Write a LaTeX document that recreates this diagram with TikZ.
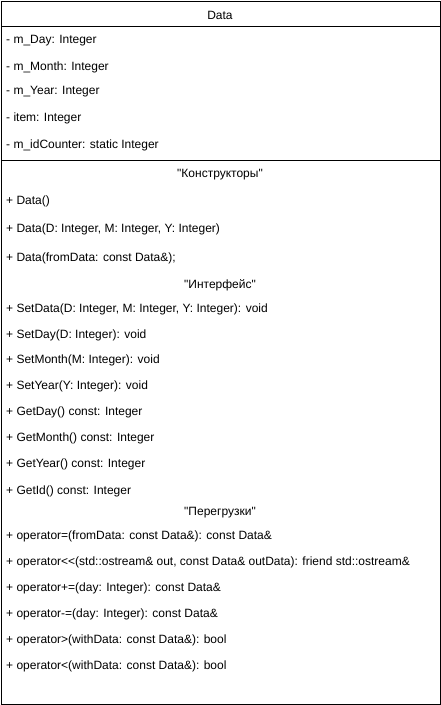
\documentclass[tikz,border=0pt]{standalone}
\usepackage{fontspec}
\setmainfont{Liberation Sans}

\begin{document}
\begin{tikzpicture}[
    x=1pt, y=-1pt,
    every node/.style={font=\fontsize{12}{14}\selectfont, inner sep=0pt},
    member/.style={anchor=west, yshift=-1pt},
    section/.style={anchor=center, yshift=-1pt},
    frame/.style={draw=black, line width=1pt}
]
\useasboundingbox (0,0) rectangle (441,705);

% class box
\draw[frame] (1,1) rectangle (440,704);
\draw[frame] (1,26) -- (440,26);
\draw[frame] (1,160) -- (440,160);

\node[section] (classname) at (220,14) {Data};

% attributes
\node[member] (mday) at (6,40) {- m\_Day: Integer};
\node[member] (mmonth) at (6,66) {- m\_Month: Integer};
\node[member] (myear) at (6,91) {- m\_Year: Integer};
\node[member] (item) at (6,117) {- item: Integer};
\node[member] (idcounter) at (6,144) {- m\_idCounter: static Integer};

% constructors
\node[section] (ctors) at (220,174) {\textquotedbl Конструкторы\textquotedbl};
\node[member] (ctordefault) at (6,200) {+ Data()};
\node[member] (ctordmy) at (6,228) {+ Data(D: Integer, M: Integer, Y: Integer)};
\node[member] (ctorcopy) at (6,257) {+ Data(fromData: const Data\&);};

% interface
\node[section] (iface) at (220,284) {\textquotedbl Интерфейс\textquotedbl};
\node[member] (setdata) at (6,308) {+ SetData(D: Integer, M: Integer, Y: Integer): void};
\node[member] (setday) at (6,334) {+ SetDay(D: Integer): void};
\node[member] (setmonth) at (6,359) {+ SetMonth(M: Integer): void};
\node[member] (setyear) at (6,385) {+ SetYear(Y: Integer): void};
\node[member] (getday) at (6,411) {+ GetDay() const: Integer};
\node[member] (getmonth) at (6,437) {+ GetMonth() const: Integer};
\node[member] (getyear) at (6,463) {+ GetYear() const: Integer};
\node[member] (getid) at (6,490) {+ GetId() const: Integer};

% overloads
\node[section] (overloads) at (220,512) {\textquotedbl Перегрузки\textquotedbl};
\node[member] (opassign) at (6,535) {+ operator=(fromData: const Data\&): const Data\&};
\node[member] (opout) at (6,561) {+ operator<{}<(std::ostream\& out, const Data\& outData): friend std::ostream\&};
\node[member] (opplus) at (6,587) {+ operator+=(day: Integer): const Data\&};
\node[member] (opminus) at (6,613) {+ operator-=(day: Integer): const Data\&};
\node[member] (opgreater) at (6,639) {+ operator>(withData: const Data\&): bool};
\node[member] (opless) at (6,665) {+ operator<(withData: const Data\&): bool};

\end{tikzpicture}
\end{document}
